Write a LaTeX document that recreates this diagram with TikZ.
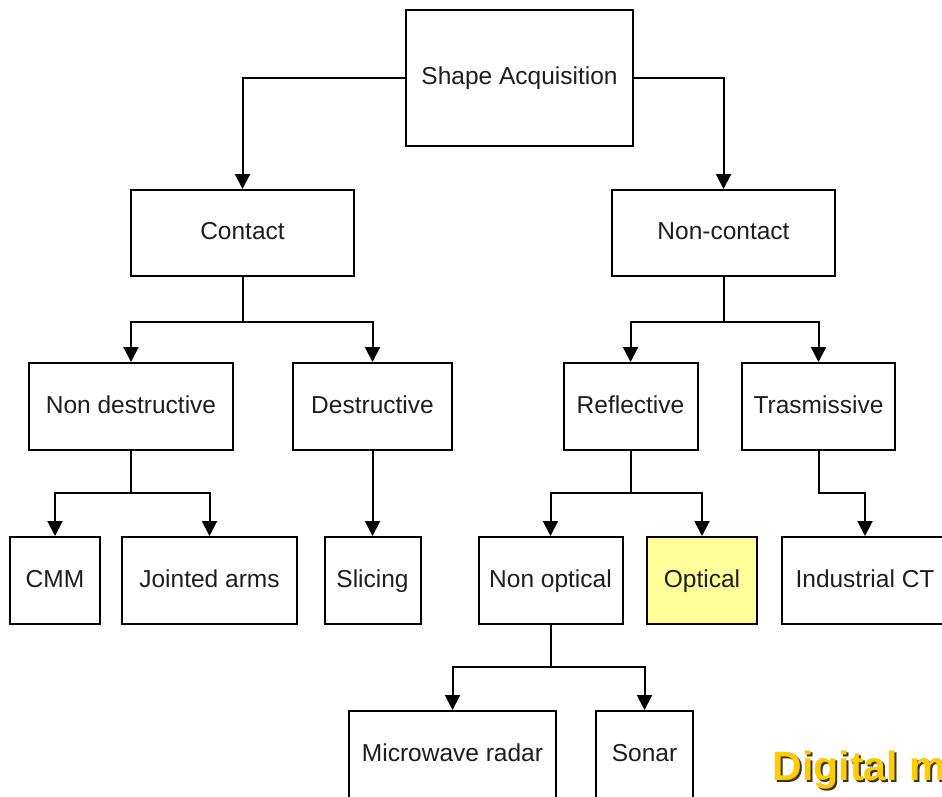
\documentclass[tikz,border=0pt]{standalone}
\usepackage{fontspec}
\setmainfont{Liberation Sans}
\usetikzlibrary{arrows.meta}
\definecolor{boxyellow}{HTML}{FFFF99}
\definecolor{titlegold}{HTML}{FFCC00}
\definecolor{titleshadow}{HTML}{3A3520}
\definecolor{labelgrey}{HTML}{1E1E1E}
\tikzset{
  box/.style={draw=black, line width=2pt, fill=white, minimum height=87pt,
    inner sep=0pt, text height=17pt, text depth=4pt, text=labelgrey,
    font=\fontsize{24.5}{29}\selectfont},
  link/.style={draw=black, line width=2pt},
  conn/.style={link, -{Triangle[width=15pt,length=15pt]}},
}
\begin{document}
\begin{tikzpicture}[x=1pt, y=-1pt]
  \useasboundingbox (0,0) rectangle (942,796);
  \fill[white] (0,0) rectangle (942,796);
  \clip (0,0) rectangle (942,796);

  % boxes
  \node[box, minimum width=227pt, minimum height=136pt] (sa) at (519.5,78) {Shape Acquisition};
  \node[box, minimum width=223pt, minimum height=86pt] (contact) at (242.5,233) {Contact};
  \node[box, minimum width=223pt, minimum height=86pt] (noncontact) at (723.5,233) {Non-contact};

  \node[box, minimum width=204pt] (nondes) at (131,406.5) {Non destructive};
  \node[box, minimum width=159pt] (des) at (372.5,406.5) {Destructive};
  \node[box, minimum width=134pt] (refl) at (630.5,406.5) {Reflective};
  \node[box, minimum width=153pt] (tras) at (818.5,406.5) {Trasmissive};

  \node[box, minimum width=90pt] (cmm) at (55,580.5) {CMM};
  \node[box, minimum width=175pt] (joint) at (209.5,580.5) {Jointed arms};
  \node[box, minimum width=96pt] (slicing) at (372.5,580.5) {Slicing};
  \node[box, minimum width=144pt] (nonopt) at (550.5,580.5) {Non optical};
  \node[box, minimum width=110pt, fill=boxyellow] (optical) at (702,580.5) {Optical};
  \node[box, minimum width=166pt] (indct) at (865,580.5) {Industrial CT};

  \node[box, minimum width=207pt] (micro) at (452.5,754.5) {Microwave radar};
  \node[box, minimum width=97pt] (sonar) at (644.5,754.5) {Sonar};

  % connectors
  \draw[conn] (sa.west) -| (contact.north);
  \draw[conn] (sa.east) -| (noncontact.north);

  \draw[conn] (contact.south) -- ++(0,45) -| (nondes.north);
  \draw[conn] (contact.south) -- ++(0,45) -| (des.north);
  \draw[conn] (noncontact.south) -- ++(0,45) -| (refl.north);
  \draw[conn] (noncontact.south) -- ++(0,45) -| (tras.north);

  \draw[conn] (nondes.south) -- ++(0,42) -| (cmm.north);
  \draw[conn] (nondes.south) -- ++(0,42) -| (joint.north);
  \draw[conn] (des.south) -- (slicing.north);
  \draw[conn] (refl.south) -- ++(0,42) -| (nonopt.north);
  \draw[conn] (refl.south) -- ++(0,42) -| (optical.north);
  \draw[conn] (tras.south) -- ++(0,42) -| (indct.north);

  \draw[conn] (nonopt.south) -- ++(0,42) -| (micro.north);
  \draw[conn] (nonopt.south) -- ++(0,42) -| (sonar.north);

  % caption in the corner, with a dark drop shadow
  \node[anchor=base west, inner sep=0pt, text=titleshadow,
        font=\fontsize{41}{49}\selectfont\bfseries] (capshadow) at (774.5,782) {Digital m};
  \node[anchor=base west, inner sep=0pt, text=titlegold,
        font=\fontsize{41}{49}\selectfont\bfseries] (caption) at (772.5,780) {Digital m};
\end{tikzpicture}
\end{document}
